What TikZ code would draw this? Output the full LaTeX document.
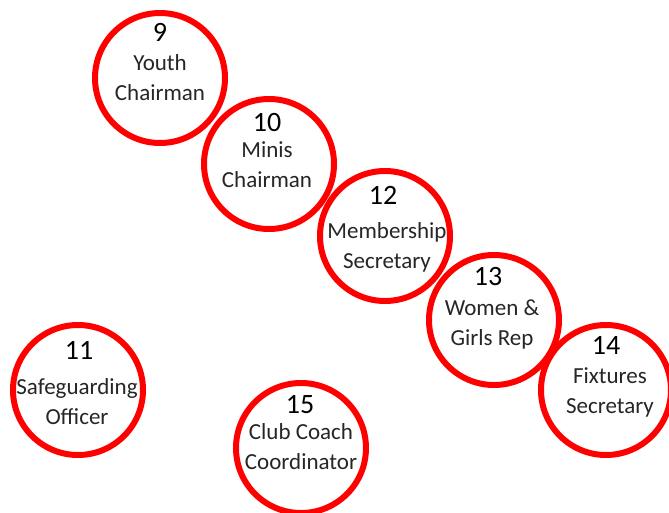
\documentclass[tikz,border=0pt]{standalone}
\usepackage{fontspec}
\setmainfont{Carlito}
\usepackage{tikz}
\usetikzlibrary{positioning}

\begin{document}
\begin{tikzpicture}[x=0.75pt,y=-0.75pt,
      role/.style={circle,draw=red,line width=4.5pt,fill=white,inner sep=0pt,minimum size=97.5pt},
      num/.style={font=\fontsize{21}{22}\selectfont,text=black,inner sep=0pt},
      title/.style={font=\fontsize{17.25}{22.5}\selectfont,text=black!85,align=center,inner sep=0pt}]
      \useasboundingbox (0,0) rectangle (669,512);
      \node[role] (r9) at (160,78) {};
      \node[role] (r10) at (269,164) {};
      \node[role] (r12) at (385,236) {};
      \node[role] (r13) at (494,320) {};
      \node[role] (r14) at (606,390) {};
      \node[role] (r11) at (78,390) {};
      \node[role] (r15) at (301,448) {};
      \node[num] (n9) at ([shift={(0,-46)}]r9) {9};
      \node[title] (t9) at ([shift={(0,0)}]r9) {Youth\\Chairman};
      \node[num] (n10) at ([shift={(-2,-41)}]r10) {10};
      \node[title] (t10) at ([shift={(-2,1)}]r10) {Minis\\Chairman};
      \node[num] (n12) at ([shift={(-2,-41)}]r12) {12};
      \node[title] (t12) at ([shift={(2,11)}]r12) {Membership\\Secretary};
      \node[num] (n13) at ([shift={(-6,-43)}]r13) {13};
      \node[title] (t13) at ([shift={(-2,4.5)}]r13) {Women \&\\Girls Rep};
      \node[num] (n14) at ([shift={(0,-45)}]r14) {14};
      \node[title] (t14) at ([shift={(4,2.5)}]r14) {Fixtures\\Secretary};
      \node[num] (n11) at ([shift={(1,-40)}]r11) {11};
      \node[title] (t11) at ([shift={(-1,12)}]r11) {Safeguarding\\Officer};
      \node[num] (n15) at ([shift={(-1,-43)}]r15) {15};
      \node[title] (t15) at ([shift={(0,-1.5)}]r15) {Club Coach\\Coordinator};
\end{tikzpicture}
\end{document}
